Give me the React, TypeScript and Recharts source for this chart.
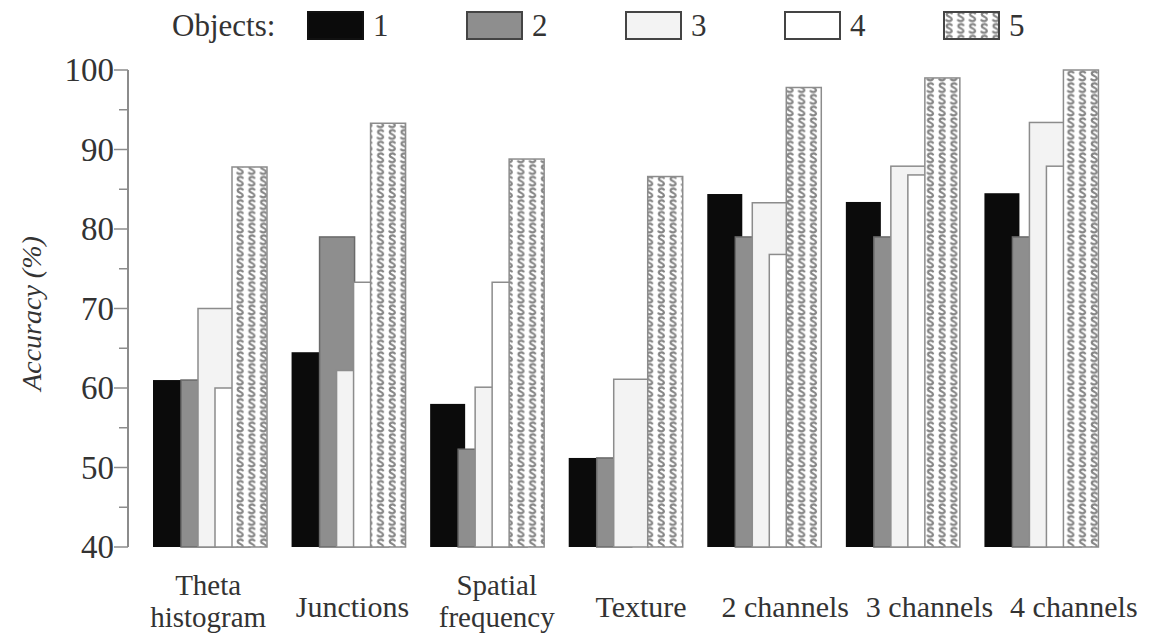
import { BarChart, Bar, XAxis, YAxis, Legend } from "recharts";

const FONT = "'Liberation Serif', 'Times New Roman', serif";
const INK = "#333333";
const FRAME = "#8c8c8c";

// Recognition accuracy per feature set, one array per object count
const categories = [
  "Theta\nhistogram",
  "Junctions",
  "Spatial\nfrequency",
  "Texture",
  "2 channels",
  "3 channels",
  "4 channels",
];
const objects1 = [61, 64.5, 58, 51.2, 84.4, 83.4, 84.5];
const objects2 = [61, 79, 52.3, 51.2, 79, 79, 79];
const objects3 = [70, 62.2, 60.1, 61.1, 83.3, 87.9, 93.4];
const objects4 = [60, 73.3, 73.3, null, 76.8, 86.8, 87.9];
const objects5 = [87.8, 93.3, 88.8, 86.6, 97.8, 99, 100];
const objectLabels = ["1", "2", "3", "4", "5"];
const yTicks = [40, 45, 50, 55, 60, 65, 70, 75, 80, 85, 90, 95, 100];

const data = categories.map((name, i) => ({
  name,
  o1: objects1[i],
  o2: objects2[i],
  o3: objects3[i],
  o4: objects4[i],
  o5: objects5[i],
}));

// bars overlap: each one is drawn over the previous, shifted by STEP
const BAR_W = 35;
const STEP = 17;
const LEAD = 28; // the black bar sits a bit further out
const GAP = STEP - BAR_W;

const seriesStyles = [
  { fill: "#0b0b0b", stroke: "none", legendStroke: "#111" },
  { fill: "#8e8e8e", stroke: "#6a6a6a", legendStroke: "#444" },
  { fill: "#f3f3f3", stroke: "#8c8c8c", legendStroke: "#444" },
  { fill: "#ffffff", stroke: "#8c8c8c", legendStroke: "#444" },
  { fill: "url(#squiggle)", stroke: "#8c8c8c", legendStroke: "#444" },
];

const textStyle = { fontFamily: FONT, fill: INK };

function barShape(style: { fill: string; stroke: string }) {
  return (p: any) => {
    if (!p.height || p.height <= 0) return <g />;
    return (
      <rect
        x={p.x}
        y={p.y}
        width={BAR_W}
        height={p.height}
        fill={style.fill}
        stroke={style.stroke}
        strokeWidth={style.stroke === "none" ? 0 : 1.5}
      />
    );
  };
}

function AccuracyTick({ x, y, payload }: any) {
  const major = payload.value % 10 === 0;
  const len = major ? 14 : 9;
  return (
    <g>
      <line x1={x - len} x2={x} y1={y} y2={y} stroke={FRAME} strokeWidth={1.5} />
      {major && (
        <text
          x={x - len}
          y={y}
          dy="0.34em"
          textAnchor="end"
          style={{ ...textStyle, fontSize: 33 }}
        >
          {payload.value}
        </text>
      )}
    </g>
  );
}

function CategoryTick({ x, y, payload }: any) {
  const lines = String(payload.value).split("\n");
  if (lines.length === 1) {
    return (
      <text x={x} y={y + 70} textAnchor="middle" style={{ ...textStyle, fontSize: 30 }}>
        {lines[0]}
      </text>
    );
  }
  return (
    <g>
      {lines.map((line, i) => (
        <text
          key={line}
          x={x}
          y={y + 48 + i * 32}
          textAnchor="middle"
          style={{ ...textStyle, fontSize: 29 }}
        >
          {line}
        </text>
      ))}
    </g>
  );
}

function AccuracyTitle({ viewBox }: any) {
  const cx = viewBox.x + 31;
  const cy = viewBox.y + viewBox.height / 2 + 5;
  return (
    <text
      x={cx}
      y={cy}
      transform={`rotate(-90 ${cx} ${cy})`}
      textAnchor="middle"
      dominantBaseline="central"
      style={{ ...textStyle, fontStyle: "italic", fontSize: 28 }}
    >
      Accuracy (%)
    </text>
  );
}

function ObjectsLegend() {
  return (
    <div
      style={{
        display: "flex",
        alignItems: "center",
        height: 50,
        paddingLeft: 172,
        fontFamily: FONT,
        fontSize: 31,
        color: INK,
        lineHeight: 1,
      }}
    >
      <span style={{ width: 135 }}>Objects:</span>
      {objectLabels.map((label, i) => (
        <div key={label} style={{ display: "flex", alignItems: "center", width: 159 }}>
          <svg width={57} height={29} style={{ display: "block" }}>
            <rect
              x={1}
              y={1}
              width={55}
              height={27}
              fill={seriesStyles[i].fill}
              stroke={seriesStyles[i].legendStroke}
              strokeWidth={2}
            />
          </svg>
          <span style={{ marginLeft: 9 }}>{label}</span>
        </div>
      ))}
    </div>
  );
}

export default function App() {
  return (
    <div style={{ position: "absolute", left: 0, top: 0, width: 1152, height: 634, background: "#fff" }}>
      <svg width={0} height={0} style={{ position: "absolute" }}>
        <defs>
          {/* little "S" marks tiled over the five-object bars */}
          <pattern id="squiggle" width={11.7} height={11.7} patternUnits="userSpaceOnUse">
            <rect width={11.7} height={11.7} fill="#fff" />
            <path
              d="M8.7 2.4 C7.2 0.9 3.6 1.1 3.7 3.5 C3.8 5.7 8.7 5.5 8.7 8.1 C8.7 10.4 5 10.6 3.3 9.1"
              fill="none"
              stroke="#858585"
              strokeWidth={2.2}
              strokeLinecap="round"
            />
          </pattern>
        </defs>
      </svg>
      <BarChart
        width={1152}
        height={634}
        data={data}
        barGap={GAP}
        margin={{ top: 20, right: 24, bottom: 0, left: 0 }}
      >
        <Legend
          verticalAlign="top"
          align="left"
          content={<ObjectsLegend />}
          wrapperStyle={{ top: 0, left: 0, width: 1152, height: 50 }}
        />
        <XAxis
          dataKey="name"
          padding={{ left: 13, right: 17 }}
          height={0}
          tick={false}
          tickLine={false}
          axisLine={{ stroke: "#666", strokeWidth: 2 }}
        />
        <XAxis
          xAxisId="labels"
          dataKey="name"
          padding={{ left: 8, right: -18 }}
          height={87}
          interval={0}
          tickSize={0}
          tickMargin={0}
          tickLine={false}
          axisLine={false}
          tick={<CategoryTick />}
        />
        <XAxis
          xAxisId="top"
          orientation="top"
          dataKey="name"
          height={0}
          tick={false}
          tickLine={false}
          axisLine={{ stroke: FRAME, strokeWidth: 2 }}
        />
        <YAxis
          type="number"
          domain={[40, 100]}
          ticks={yTicks}
          interval={0}
          width={128}
          tickSize={0}
          tickMargin={0}
          tickLine={false}
          tick={<AccuracyTick />}
          axisLine={{ stroke: FRAME, strokeWidth: 2 }}
          label={(props: any) => <AccuracyTitle {...props} />}
        />
        <YAxis
          yAxisId="right"
          orientation="right"
          type="number"
          domain={[40, 100]}
          width={0}
          tick={false}
          tickLine={false}
          axisLine={{ stroke: FRAME, strokeWidth: 2 }}
        />
        <Bar dataKey="o1" barSize={LEAD - GAP} shape={barShape(seriesStyles[0])} isAnimationActive={false} />
        <Bar dataKey="o2" barSize={BAR_W} shape={barShape(seriesStyles[1])} isAnimationActive={false} />
        <Bar dataKey="o3" barSize={BAR_W} shape={barShape(seriesStyles[2])} isAnimationActive={false} />
        <Bar dataKey="o4" barSize={BAR_W} shape={barShape(seriesStyles[3])} isAnimationActive={false} />
        <Bar dataKey="o5" barSize={BAR_W} shape={barShape(seriesStyles[4])} isAnimationActive={false} />
      </BarChart>
    </div>
  );
}
